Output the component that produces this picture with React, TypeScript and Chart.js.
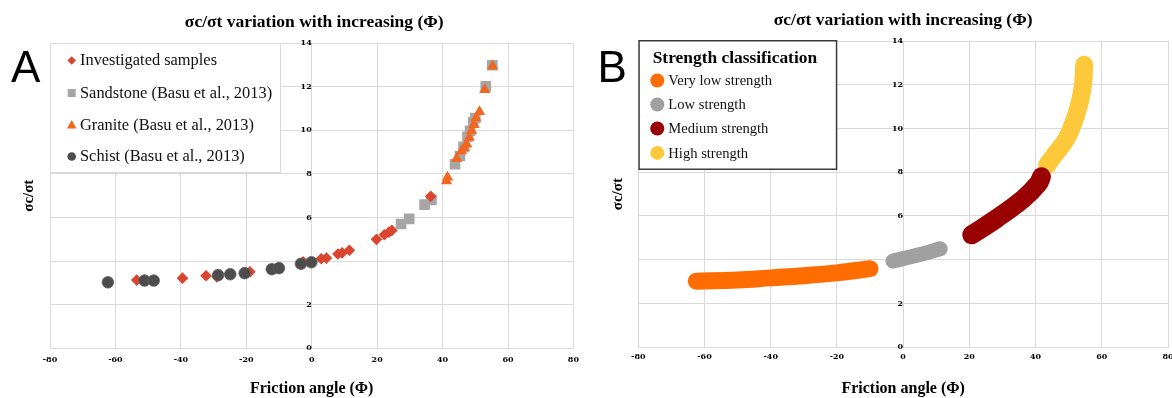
import React, { useEffect, useRef } from 'react';
import { Chart, registerables } from 'chart.js';

Chart.register(...registerables);

const SERIF = '"Liberation Serif", "Times New Roman", serif';
const TICK_FAMILY = '"DejaVu Serif", serif';

const chartTitle = 'σc/σt variation with increasing (Φ)';
const xAxisTitle = 'Friction angle (Φ)';
const yAxisTitle = 'σc/σt';
const xTickMin = -80;
const xTickMax = 80;
const xTickStep = 20;
const yTickMin = 0;
const yTickMax = 14;
const yTickStep = 2;

// Panel A data
const investigatedX = [-53.5, -39.5, -32.3, -29.0, -18.9, -2.6, 2.9, 4.5, 8.0, 9.3, 11.5, 19.8, 22.2, 23.6, 24.5, 36.4];
const investigatedY = [3.13, 3.22, 3.33, 3.28, 3.51, 3.97, 4.11, 4.14, 4.33, 4.38, 4.5, 5.0, 5.21, 5.33, 5.41, 6.97];
const sandstoneX = [27.3, 29.8, 34.5, 36.6, 43.8, 45.3, 46.4, 47.6, 48.4, 49.4, 50.0, 53.2, 55.2];
const sandstoneY = [5.7, 5.94, 6.59, 6.8, 8.44, 8.82, 9.24, 9.7, 9.98, 10.36, 10.56, 12.01, 12.98];
const graniteX = [41.2, 41.5, 44.3, 45.8, 46.7, 47.4, 48.2, 48.9, 49.6, 50.2, 51.3, 52.9, 55.3];
const graniteY = [7.67, 7.85, 8.7, 9.05, 9.2, 9.36, 9.67, 9.98, 10.25, 10.56, 10.85, 11.86, 12.93];
const schistX = [-62.3, -51.1, -48.3, -28.6, -24.9, -20.5, -12.2, -10.0, -3.3, -0.1];
const schistY = [3.03, 3.11, 3.11, 3.36, 3.4, 3.45, 3.63, 3.68, 3.88, 3.95];
const legendALabels = [
  'Investigated samples',
  'Sandstone (Basu et al., 2013)',
  'Granite (Basu et al., 2013)',
  'Schist (Basu et al., 2013)',
];

// Panel B data (strength bands)
const veryLowX = [-62.5, -50, -40, -30, -20, -10];
const veryLowY = [3.02, 3.07, 3.17, 3.27, 3.4, 3.59];
const lowX = [-3.1, 0, 6, 11.2];
const lowY = [3.94, 4.05, 4.27, 4.5];
const mediumX = [20.7, 28.2, 36.3, 40.8, 41.8];
const mediumY = [5.14, 5.88, 6.79, 7.48, 7.79];
const highX = [43.5, 45.3, 49.4, 52.4, 54.2, 54.7];
const highY = [8.33, 8.71, 9.55, 10.69, 11.84, 12.91];
const legendBTitle = 'Strength classification';
const legendBLabels = ['Very low strength', 'Low strength', 'Medium strength', 'High strength'];

const C_RED = '#d9452e';
const C_SAND = '#a6a6a6';
const C_GRANITE = '#f2661f';
const C_SCHIST = '#4d4d4d';
const C_VLOW = '#ff6d00';
const C_LOW = '#a0a0a0';
const C_MED = '#990000';
const C_HIGH = '#fdc93a';
const GRID = '#d9d9d9';

const pts = (xs: number[], ys: number[]) => xs.map((x, i) => ({ x, y: ys[i] }));

function drawMarker(ctx: CanvasRenderingContext2D, style: string, x: number, y: number, r: number, color: string) {
  ctx.beginPath();
  if (style === 'circle') {
    ctx.arc(x, y, r, 0, Math.PI * 2);
  } else if (style === 'rect') {
    ctx.rect(x - r, y - r, 2 * r, 2 * r);
  } else if (style === 'diamond') {
    ctx.moveTo(x - r, y);
    ctx.lineTo(x, y - r);
    ctx.lineTo(x + r, y);
    ctx.lineTo(x, y + r);
    ctx.closePath();
  } else if (style === 'triangle') {
    ctx.moveTo(x, y - r);
    ctx.lineTo(x + r * 0.95, y + r * 0.7);
    ctx.lineTo(x - r * 0.95, y + r * 0.7);
    ctx.closePath();
  }
  ctx.fillStyle = color;
  ctx.fill();
}

function drawYTitle(chart: any, cx: number) {
  const { ctx, chartArea } = chart;
  ctx.save();
  ctx.translate(cx, (chartArea.top + chartArea.bottom) / 2);
  ctx.rotate(-Math.PI / 2);
  ctx.textAlign = 'center';
  ctx.textBaseline = 'middle';
  ctx.fillStyle = '#000';
  ctx.font = `bold 15px ${SERIF}`;
  ctx.fillText(yAxisTitle, 0, 0);
  ctx.restore();
}

const panelAPlugin = {
  id: 'panelA',
  afterDraw(chart: any) {
    const { ctx, chartArea } = chart;
    ctx.save();
    const bx = chartArea.left;
    const by = chartArea.top;
    ctx.fillStyle = '#fff';
    ctx.fillRect(bx, by, 230, 129);
    ctx.strokeStyle = GRID;
    ctx.lineWidth = 1;
    ctx.strokeRect(Math.round(bx) + 0.5, Math.round(by) + 0.5, 230, 129);
    const styles = ['diamond', 'rect', 'triangle', 'circle'];
    const colors = [C_RED, C_SAND, C_GRANITE, C_SCHIST];
    const sizes = [4.3, 4, 5, 4.3];
    const baselines = [65, 97.5, 129.5, 161];
    ctx.font = `16.4px ${SERIF}`;
    ctx.textAlign = 'left';
    ctx.textBaseline = 'alphabetic';
    legendALabels.forEach((label, i) => {
      drawMarker(ctx, styles[i], 71.7, baselines[i] - 4.5, sizes[i], colors[i]);
      ctx.fillStyle = '#111';
      ctx.fillText(label, 80, baselines[i]);
    });
    ctx.fillStyle = '#000';
    ctx.font = '44px "Liberation Sans", Arial, sans-serif';
    ctx.fillText('A', 11, 81.6);
    ctx.restore();
    drawYTitle(chart, 29);
  },
};

const panelBPlugin = {
  id: 'panelB',
  afterDraw(chart: any) {
    const { ctx, chartArea } = chart;
    ctx.save();
    const bx = chartArea.left;
    const by = chartArea.top - 1;
    ctx.fillStyle = '#fff';
    ctx.fillRect(bx, by, 198.5, 129.5);
    ctx.strokeStyle = '#3a3a3a';
    ctx.lineWidth = 1.5;
    ctx.strokeRect(bx + 0.75, by + 0.75, 197.5, 128.5);
    ctx.textAlign = 'left';
    ctx.textBaseline = 'alphabetic';
    ctx.fillStyle = '#000';
    ctx.font = `bold 17.4px ${SERIF}`;
    ctx.fillText(legendBTitle, 66.7, 63.3);
    const colors = [C_VLOW, C_LOW, C_MED, C_HIGH];
    const baselines = [85.3, 109.3, 133.3, 157.7];
    ctx.font = `14.6px ${SERIF}`;
    legendBLabels.forEach((label, i) => {
      drawMarker(ctx, 'circle', 71.3, baselines[i] - 4.8, 7, colors[i]);
      ctx.fillStyle = '#111';
      ctx.fillText(label, 82.3, baselines[i]);
    });
    ctx.fillStyle = '#000';
    ctx.font = '44px "Liberation Sans", Arial, sans-serif';
    ctx.fillText('B', 11.5, 81.6);
    ctx.restore();
    drawYTitle(chart, 32.5);
  },
};

function makeScales(tickPad: number, titlePadTop: number) {
  const tickFont = { family: TICK_FAMILY, size: 8, weight: 'bold' as const };
  return {
    x: {
      type: 'linear' as const,
      min: xTickMin,
      max: xTickMax,
      ticks: { stepSize: xTickStep, font: tickFont, color: '#000', padding: tickPad, maxRotation: 0 },
      grid: { color: GRID, drawTicks: false },
      border: { color: GRID },
      title: {
        display: true,
        text: xAxisTitle,
        color: '#000',
        font: { family: SERIF, size: 16, weight: 'bold' as const },
        padding: { top: titlePadTop, bottom: 0 },
      },
    },
    y: {
      type: 'linear' as const,
      position: { x: 0 } as any,
      min: yTickMin,
      max: yTickMax,
      ticks: { stepSize: yTickStep, font: tickFont, color: '#000', padding: 1 },
      grid: { color: GRID, tickLength: 6, drawTicks: true },
      border: { color: GRID },
    },
  };
}

function makeTitle(padTop: number) {
  return {
    display: true,
    text: chartTitle,
    color: '#000',
    font: { family: SERIF, size: 17.5, weight: 'bold' as const },
    padding: { top: padTop, bottom: 10 },
  };
}

function configA(): any {
  return {
    type: 'scatter',
    data: {
      datasets: [
        { label: legendALabels[0], data: pts(investigatedX, investigatedY), pointStyle: 'rectRot', pointRadius: 5.8, backgroundColor: C_RED, borderColor: C_RED, borderWidth: 0, order: 3 },
        { label: legendALabels[1], data: pts(sandstoneX, sandstoneY), pointStyle: 'rect', pointRadius: 7.5, backgroundColor: C_SAND, borderColor: C_SAND, borderWidth: 0, order: 4 },
        { label: legendALabels[2], data: pts(graniteX, graniteY), pointStyle: 'triangle', pointRadius: 6.5, backgroundColor: C_GRANITE, borderColor: C_GRANITE, borderWidth: 0, order: 2 },
        { label: legendALabels[3], data: pts(schistX, schistY), pointStyle: 'circle', pointRadius: 5.8, backgroundColor: C_SCHIST, borderColor: '#5e5e5e', borderWidth: 0.8, order: 1 },
      ],
    },
    options: {
      animation: false,
      responsive: false,
      layout: { padding: { left: 50, right: 7.5, top: 0, bottom: 0 } },
      plugins: { legend: { display: false }, tooltip: { enabled: false }, title: makeTitle(12) },
      scales: makeScales(7, 6.8),
    },
    plugins: [panelAPlugin],
  };
}

function band(label: string, xs: number[], ys: number[], color: string, width: number, order: number) {
  return {
    label,
    data: pts(xs, ys),
    borderColor: color,
    backgroundColor: color,
    borderWidth: width,
    borderCapStyle: 'round',
    borderJoinStyle: 'round',
    pointRadius: 0,
    tension: 0.4,
    fill: false,
    showLine: true,
    order,
  };
}

function configB(): any {
  return {
    type: 'scatter',
    data: {
      datasets: [
        band(legendBLabels[0], veryLowX, veryLowY, C_VLOW, 17, 4),
        band(legendBLabels[1], lowX, lowY, C_LOW, 15, 3),
        band(legendBLabels[2], mediumX, mediumY, C_MED, 19, 1),
        band(legendBLabels[3], highX, highY, C_HIGH, 18, 2),
      ],
    },
    options: {
      animation: false,
      responsive: false,
      layout: { padding: { left: 52.3, right: 18, top: 0, bottom: 0 } },
      plugins: { legend: { display: false }, tooltip: { enabled: false }, title: makeTitle(10) },
      scales: makeScales(5.2, 11.6),
    },
    plugins: [panelBPlugin],
  };
}

function Panel({ width, height, makeConfig }: { width: number; height: number; makeConfig: () => any }) {
  const ref = useRef<HTMLCanvasElement | null>(null);
  useEffect(() => {
    if (!ref.current) return;
    const chart = new Chart(ref.current, makeConfig());
    return () => chart.destroy();
  }, [makeConfig]);
  return <canvas ref={ref} width={width} height={height} style={{ display: 'block', width, height }} />;
}

export default function App() {
  return (
    <div style={{ position: 'fixed', left: 0, top: 0, width: 1172, height: 398, overflow: 'hidden', background: '#fff' }}>
      <div style={{ position: 'absolute', left: 0, top: 0, width: 586, height: 398 }}>
        <Panel width={586} height={398} makeConfig={configA} />
      </div>
      <div style={{ position: 'absolute', left: 586, top: 0, width: 600, height: 398 }}>
        <Panel width={600} height={398} makeConfig={configB} />
      </div>
    </div>
  );
}
